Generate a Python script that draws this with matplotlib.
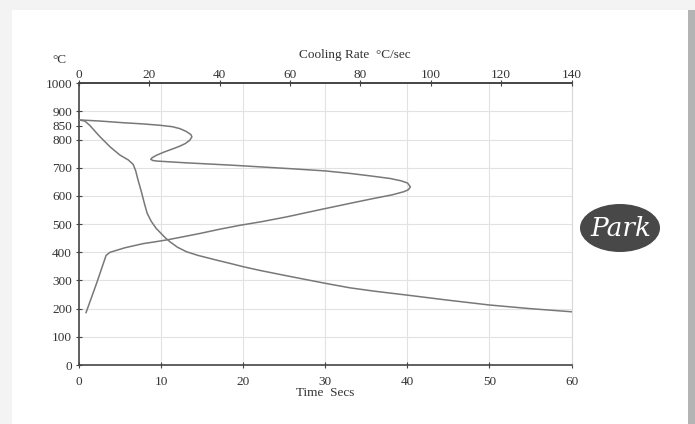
import matplotlib
matplotlib.use("Agg")
import matplotlib.pyplot as plt
from matplotlib.patches import Ellipse, Rectangle

# Cooling curve: temperature vs time
cool_time = [0, 0.7, 1.3, 2.5, 3.8, 5.0, 6.0, 6.6, 6.9, 7.2, 7.6, 8.0, 8.3, 8.8,
             9.4, 9.9, 10.5, 11.1, 12.0, 13.1, 14.5, 16.8, 18.5, 20, 22, 24.9,
             27, 30, 33, 36, 40, 45, 50, 55, 60]
cool_temp = [870, 866, 851, 812, 774, 745, 728, 712, 690, 656, 615, 570, 539, 510,
             485, 470, 452, 437, 418, 402, 389, 372, 360, 349, 336, 319,
             307, 290, 274, 262, 248, 230, 213, 200, 189]

# Cooling rate vs temperature
rate = [0, 6, 12.6, 18, 23, 26.5, 28.7, 30.5, 31.8, 32.1, 31.5, 30.2, 28.5, 26.8,
        24.2, 22.1, 20.8, 20.4, 21.0, 22.1, 30, 43.9, 60, 70, 77.1, 83, 88.5,
        91.5, 93.4, 94.2, 93.6, 92.3, 89, 83.7, 77.1, 68, 59.1, 52, 45.8, 40,
        34.4, 29.5, 25.4, 21.5, 18.3, 13, 8.8, 7.7, 5.0, 2.0]
rate_temp = [870, 866, 860, 856, 851, 846, 839, 829, 818, 810, 798, 786, 776, 768,
             756, 745, 736, 730, 726, 724, 718, 709, 697, 689, 680, 671, 662,
             654, 646, 632, 622, 615, 604, 591, 574, 550, 526, 509, 496, 482,
             467, 455, 445, 437, 431, 416, 400, 389, 290, 186]

temp_ticks = [0, 100, 200, 300, 400, 500, 600, 700, 800, 850, 900, 1000]
time_ticks = [0, 10, 20, 30, 40, 50, 60]
rate_ticks = [0, 20, 40, 60, 80, 100, 120, 140]

plt.rcParams['font.family'] = ['Liberation Serif', 'DejaVu Serif']
txt = '#333333'
line_c = '#787878'
grid_c = '#e2e2e2'
fs = 9.5

fig = plt.figure(figsize=(6.95, 4.24), dpi=100)
fig.patch.set_facecolor('#f3f3f3')
W, H = 695, 424
# shadow and white panel
fig.patches.append(Rectangle((688 / W, 0), 7 / W, 1 - 10 / H, transform=fig.transFigure,
                             facecolor='#b4b4b4', edgecolor='none', zorder=-5))
fig.patches.append(Rectangle((12 / W, 0), 676 / W, 1 - 10 / H, transform=fig.transFigure,
                             facecolor='white', edgecolor='none', zorder=-4))

ax = fig.add_axes([79 / W, 1 - 365 / H, (571.5 - 79) / W, (365 - 83.3) / H])
ax.set_facecolor('none')
ax.plot(cool_time, cool_temp, color=line_c, lw=1.1, zorder=3)
ax.set_xlim(0, 60)
ax.set_ylim(0, 1000)
ax.set_xticks(time_ticks)
ax.set_yticks(temp_ticks)
for y in [100, 200, 300, 400, 500, 600, 700, 800, 900]:
    ax.axhline(y, color=grid_c, lw=0.8, zorder=1)
for x in [10, 20, 30, 40, 50]:
    ax.axvline(x, color=grid_c, lw=0.8, zorder=1)
for s in ['left', 'bottom', 'top']:
    ax.spines[s].set_color('#444444')
    ax.spines[s].set_linewidth(1.2)
ax.spines['right'].set_color('#d8d8d8')
ax.spines['right'].set_linewidth(0.8)
ax.tick_params(axis='y', direction='inout', length=4, width=0.8,
               colors='#444444', labelcolor=txt, labelsize=fs, pad=3)
ax.tick_params(axis='x', direction='inout', length=4, width=0.8,
               colors='#444444', labelcolor=txt, labelsize=fs, pad=6)
ax.set_xlabel('Time  Secs', fontsize=fs, color=txt, labelpad=-1)

ax2 = ax.twiny()
ax2.plot(rate, rate_temp, color=line_c, lw=1.1, zorder=3)
ax2.set_xlim(0, 140)
ax2.set_xticks(rate_ticks)
ax2.tick_params(axis='x', direction='inout', length=4, width=0.8,
                colors='#444444', labelcolor=txt, labelsize=fs, pad=0)
for s in ['left', 'bottom', 'right']:
    ax2.spines[s].set_visible(False)
ax2.spines['top'].set_color('#444444')
ax2.spines['top'].set_linewidth(1.2)

fig.text(355 / W, 1 - 55 / H, 'Cooling Rate  °C/sec', fontsize=fs, color=txt,
         ha='center', va='center')
fig.text(59 / W, 1 - 60 / H, '°C', fontsize=fs, color=txt, ha='center', va='center')

# logo
fig.patches.append(Ellipse((620 / W, 1 - 228 / H), 80 / W, 48 / H, transform=fig.transFigure,
                           facecolor='#484848', edgecolor='none', zorder=2))
fig.text(621 / W, 1 - 229 / H, 'Park', fontsize=19, color='white', fontstyle='italic',
         family=['DejaVu Serif'], ha='center', va='center', zorder=3)

fig.savefig('out.png', dpi=100, facecolor=fig.get_facecolor())
